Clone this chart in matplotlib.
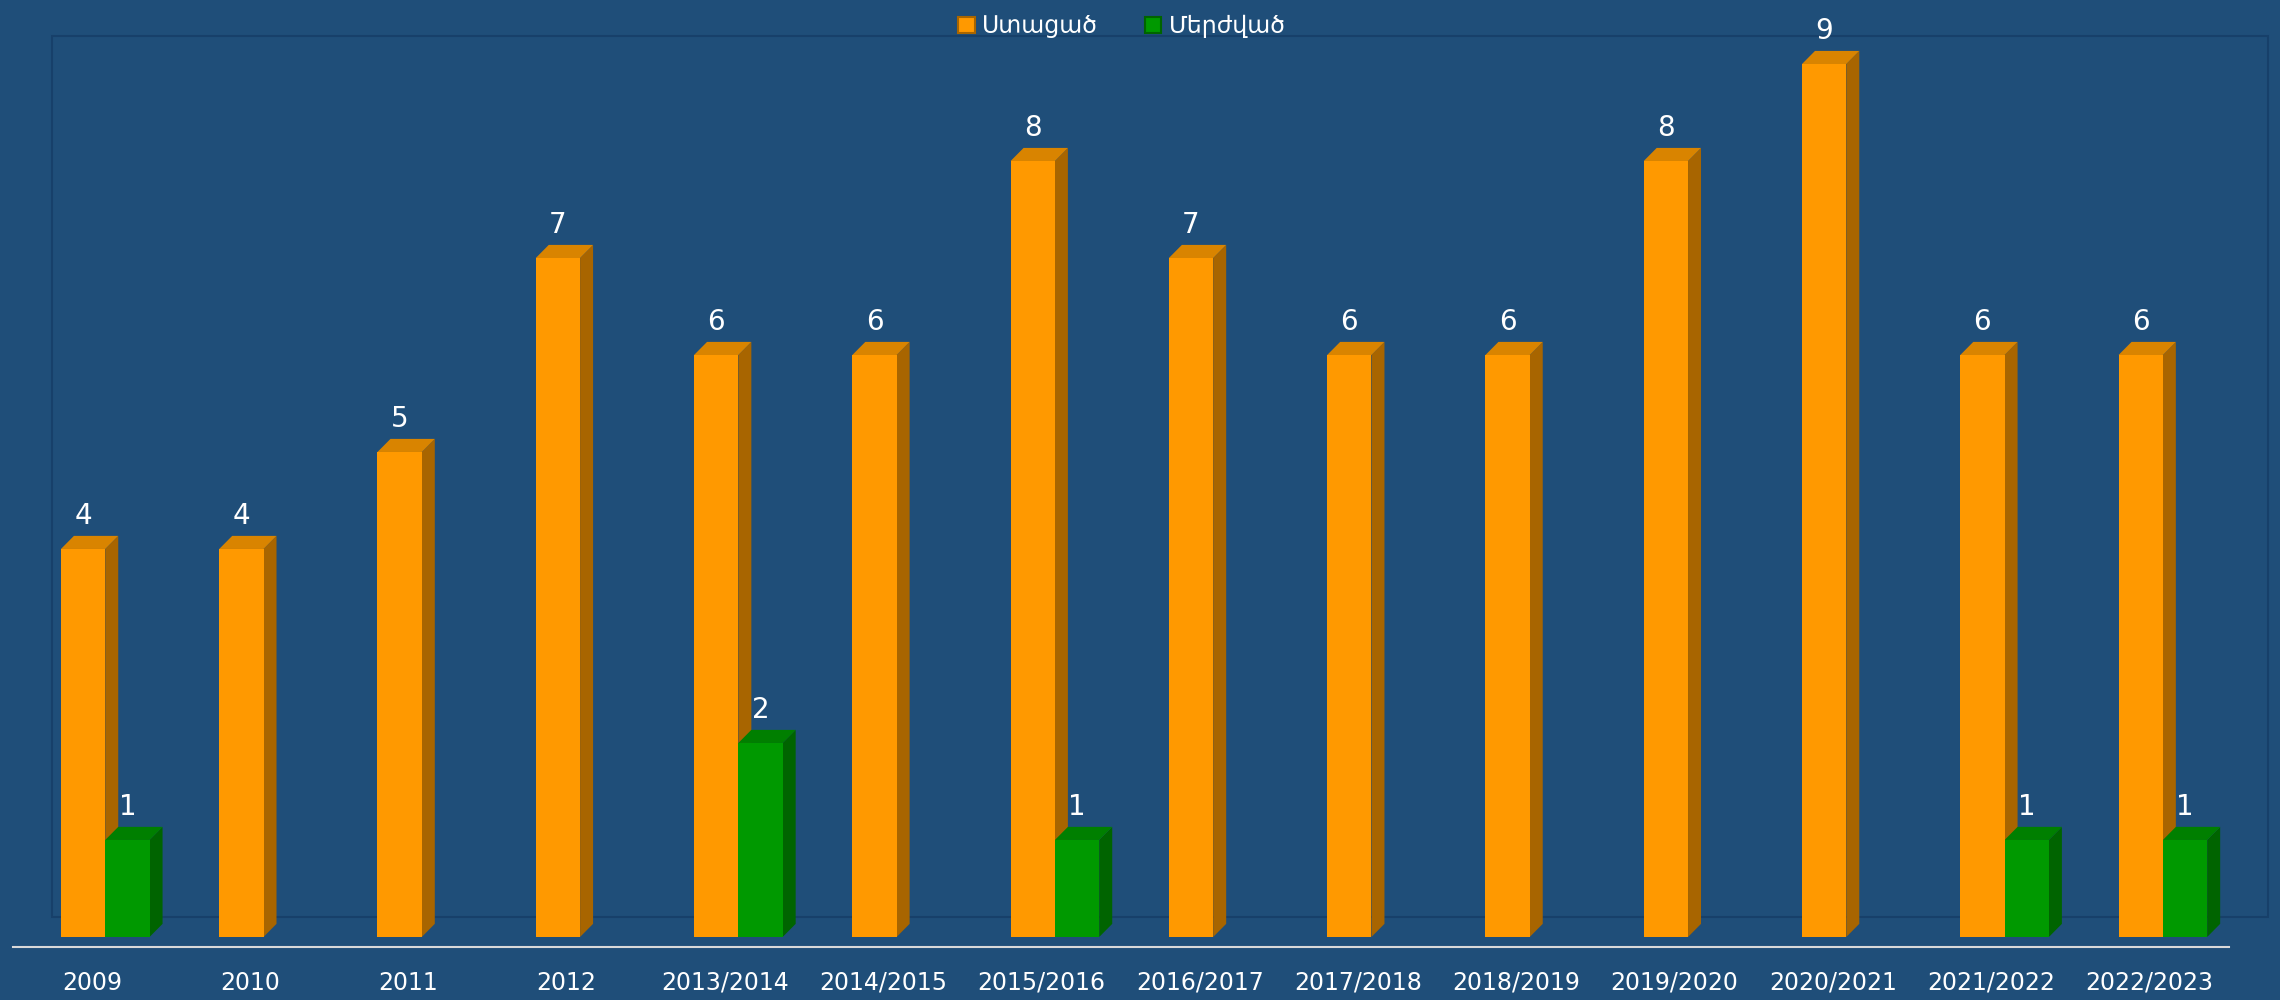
import numpy as np
import matplotlib
matplotlib.use("Agg")
import matplotlib.pyplot as plt
from matplotlib.patches import Polygon, Rectangle, Patch

categories = ["2009", "2010", "2011", "2012", "2013/2014", "2014/2015", "2015/2016",
              "2016/2017", "2017/2018", "2018/2019", "2019/2020", "2020/2021",
              "2021/2022", "2022/2023"]
received = [4, 4, 5, 7, 6, 6, 8, 7, 6, 6, 8, 9, 6, 6]
rejected = [1, 0, 0, 0, 2, 0, 1, 0, 0, 0, 0, 0, 1, 1]
series_names = ["Ստացած", "Մերժված"]

bg = "#1F4E79"
# front, side, top
orange = ("#FF9900", "#A86500", "#D98400")
green = ("#009900", "#006400", "#007F00")

plt.rcParams['font.family'] = ['DejaVu Sans']

fig = plt.figure(figsize=(22.8, 10), dpi=100)
fig.patch.set_facecolor(bg)
ax = fig.add_axes([0, 0, 1, 1])
ax.set_facecolor(bg)
ax.set_xlim(-0.525, 13.88)
ax.set_ylim(-0.65, 9.66)
ax.axis("off")

w = 0.28      # bar width (category units)
dx = 0.082    # depth in x
dy = 0.135    # depth in y

# back wall
ax.add_patch(Rectangle((-0.196, 0.206), 14.0, 9.08, facecolor=bg,
                       edgecolor="#17406A", lw=1.5, zorder=0))


def bar3d(x0, h, cols):
    front, side, top = cols
    ax.add_patch(Polygon([(x0 + w, 0), (x0 + w + dx, dy), (x0 + w + dx, h + dy), (x0 + w, h)],
                         closed=True, facecolor=side, edgecolor="none", zorder=2))
    ax.add_patch(Polygon([(x0, h), (x0 + w, h), (x0 + w + dx, h + dy), (x0 + dx, h + dy)],
                         closed=True, facecolor=top, edgecolor="none", zorder=2))
    ax.add_patch(Rectangle((x0, 0), w, h, facecolor=front, edgecolor="none", zorder=3))


x = np.arange(len(categories))
for i in x:
    xo = i - w / 2
    bar3d(xo, received[i], orange)
    ax.text(i, received[i] + 0.34, str(received[i]), color="white", fontsize=20,
            ha="center", va="center", zorder=5)
    if rejected[i] > 0:
        xg = xo + w
        bar3d(xg, rejected[i], green)
        ax.text(xg + w / 2, rejected[i] + 0.34, str(rejected[i]), color="white",
                fontsize=20, ha="center", va="center", zorder=5)
    ax.text(i + 0.055, -0.474, categories[i], color="white", fontsize=17,
            ha="center", va="center")

# axis line
ax.plot([-0.442, 13.56], [-0.103, -0.103], color="#D9D9D9", lw=1.5, zorder=4)

handles = [Patch(facecolor=orange[0], edgecolor=orange[1], lw=1.5),
           Patch(facecolor=green[0], edgecolor=green[1], lw=1.5)]
leg = fig.legend(handles, series_names, loc="upper center", bbox_to_anchor=(0.492, 1.007),
                 ncol=2, frameon=False, fontsize=17, handlelength=0.7, handleheight=0.7,
                 handletextpad=0.3, columnspacing=2.0, labelcolor="white")

fig.savefig("out.png", dpi=100, facecolor=bg)
